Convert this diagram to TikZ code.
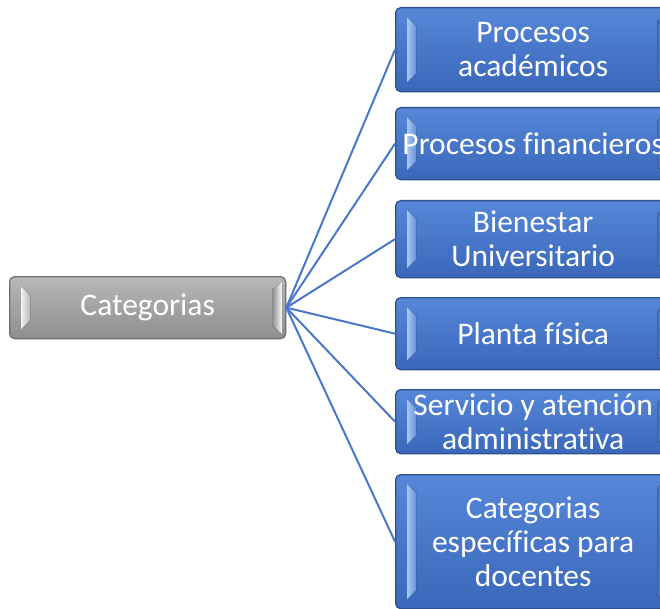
\documentclass[tikz,border=0pt]{standalone}
\usepackage{fontspec}
\setmainfont[Ligatures=NoCommon]{Carlito}
\definecolor{lnblue}{HTML}{4A78C8}
\definecolor{bluetop}{HTML}{5687D8}
\definecolor{bluebot}{HTML}{3A67BA}
\definecolor{bluedark}{HTML}{2F528F}
\definecolor{bluelight}{HTML}{A9C6F2}
\definecolor{greytop}{HTML}{B8B8B8}
\definecolor{greybot}{HTML}{8E8E8E}
\definecolor{greydark}{HTML}{6F6F6F}
\definecolor{greylight}{HTML}{F2F2F2}
\tikzset{
  bluebox/.style={draw=bluedark, line width=1.3pt, rounded corners=5pt, top color=bluetop, bottom color=bluebot, minimum width=275pt, inner sep=0pt, anchor=north west},
  greybox/.style={draw=greydark, line width=1.3pt, rounded corners=5pt, top color=greytop, bottom color=greybot, minimum width=276pt, inner sep=0pt, anchor=north west},
  bluebev/.style={left color=bluelight, right color=bluetop!80!bluelight},
  bluebevr/.style={left color=bluebot, right color=bluelight},
  greybev/.style={left color=greylight, right color=greytop},
  greybevr/.style={left color=greybot, right color=white},
  lbl/.style={text=white, align=center, font=\fontsize{31.5}{34}\selectfont, inner sep=0pt},
  link/.style={draw=lnblue, line width=2pt}
}
\newcommand\bevbox[6]{%
  \node[#5box, minimum height=#4pt] (#1) at (#2,#3) {};
  \fill[#5bev] ([shift={(12pt,-10pt)}]#1.north west) -- ([shift={(21pt,-19pt)}]#1.north west)
     -- ([shift={(21pt,19pt)}]#1.south west) -- ([shift={(12pt,10pt)}]#1.south west) -- cycle;
  \fill[#5bevr] ([shift={(-14pt,-14pt)}]#1.north east) -- ([shift={(-4pt,-5pt)}]#1.north east)
     -- ([shift={(-4pt,5pt)}]#1.south east) -- ([shift={(-14pt,14pt)}]#1.south east) -- cycle;
  \node[lbl] at (#1.center) {#6};
}
\begin{document}
\begin{tikzpicture}[x=1pt,y=-1pt]
\useasboundingbox (0,0) rectangle (660,609);
\clip (0,0) rectangle (660,609);
\fill[white] (0,0) rectangle (660,609);
\bevbox{cat}{9}{276}{62}{grey}{Categorias}
\bevbox{b1}{395}{7}{84}{blue}{Procesos\\académicos}
\bevbox{b2}{395}{107}{72}{blue}{Procesos financieros}
\bevbox{b3}{395}{200}{77}{blue}{Bienestar\\Universitario}
\bevbox{b4}{395}{297}{72}{blue}{Planta física}
\bevbox{b5}{395}{389}{64}{blue}{Servicio y atención\\administrativa}
\bevbox{b6}{395}{474}{134}{blue}{Categorias\\específicas para\\docentes}
\foreach \b in {b1,b2,b3,b4,b5,b6} \draw[link] (cat.east) -- (\b.west);
\end{tikzpicture}
\end{document}
